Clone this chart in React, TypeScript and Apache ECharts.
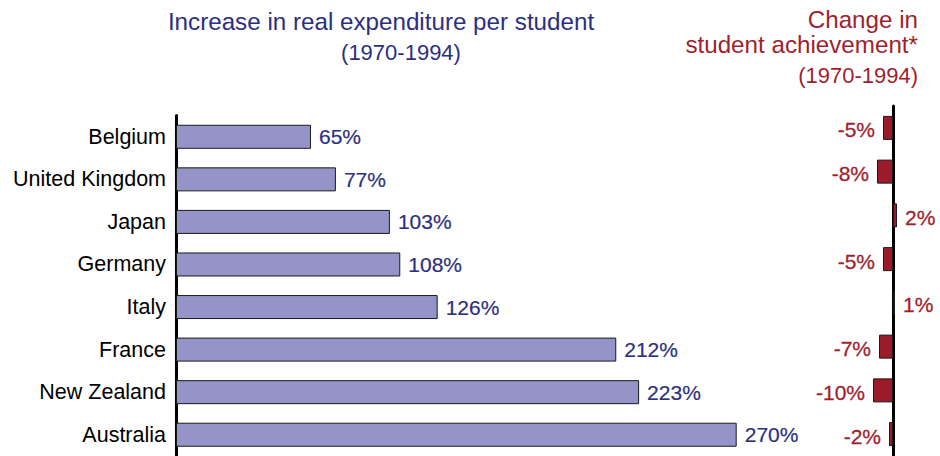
import React, { useEffect, useRef } from 'react';
import * as echarts from 'echarts';

const countries = ['Belgium', 'United Kingdom', 'Japan', 'Germany', 'Italy', 'France', 'New Zealand', 'Australia'];
const expenditureIncrease = [65, 77, 103, 108, 126, 212, 223, 270];
const achievementChange = [-5, -8, 2, -5, 1, -7, -10, -2];

const FONT = '"Liberation Sans", Arial, Helvetica, sans-serif';
const NAVY = '#2b2f80';
const RED = '#a01f2e';

export default function App() {
  const ref = useRef<HTMLDivElement>(null);
  useEffect(() => {
    if (!ref.current) return;
    const chart = echarts.init(ref.current, null, { renderer: 'svg' });
    chart.setOption({
      animation: false,
      backgroundColor: '#ffffff',
      textStyle: { fontFamily: FONT },
      grid: [
        { left: 176, top: 115.5, width: 623, height: 344 },
        { left: 863, top: 106, width: 60, height: 352 },
      ],
      xAxis: [
        { gridIndex: 0, type: 'value', min: 0, max: 300, show: false },
        { gridIndex: 1, type: 'value', min: -15, max: 15, show: false },
      ],
      yAxis: [
        {
          gridIndex: 0,
          type: 'category',
          data: countries,
          inverse: true,
          axisLine: { show: true, onZero: true, lineStyle: { color: '#000', width: 3 } },
          axisTick: { show: false },
          axisLabel: { fontSize: 21.5, color: '#000', margin: 10, fontFamily: FONT },
        },
        {
          gridIndex: 1,
          type: 'category',
          data: countries,
          inverse: true,
          axisLine: { show: true, onZero: true, lineStyle: { color: '#000', width: 3 } },
          axisTick: { show: false },
          axisLabel: { show: false },
        },
      ],
      series: [
        {
          type: 'bar',
          xAxisIndex: 0,
          yAxisIndex: 0,
          data: expenditureIncrease,
          barWidth: 24,
          itemStyle: { color: '#9494c8', borderColor: '#1a1a1a', borderWidth: 1 },
          label: {
            show: true,
            position: 'right',
            distance: 8,
            formatter: '{c}%',
            color: NAVY,
            fontSize: 21,
            fontFamily: FONT,
            textBorderColor: NAVY,
            textBorderWidth: 0.2,
          },
        },
        {
          type: 'bar',
          xAxisIndex: 1,
          yAxisIndex: 1,
          data: achievementChange.map((v) => ({
            value: v,
            label: { position: v < 0 ? 'left' : 'right' },
          })),
          barWidth: 24,
          itemStyle: { color: '#9c1b2b', borderColor: '#1a1a1a', borderWidth: 1 },
          label: {
            show: true,
            distance: 8,
            offset: [0, 2],
            formatter: '{c}%',
            color: RED,
            fontSize: 21,
            fontFamily: FONT,
            textBorderColor: RED,
            textBorderWidth: 0.3,
          },
        },
      ],
      graphic: [
        {
          type: 'text',
          x: 381,
          y: 21,
          style: {
            text: 'Increase in real expenditure per student',
            fill: NAVY,
            font: `24.2px ${FONT}`,
            textAlign: 'center',
            textVerticalAlign: 'middle',
          },
        },
        {
          type: 'text',
          x: 401,
          y: 52,
          style: {
            text: '(1970-1994)',
            fill: NAVY,
            font: `22px ${FONT}`,
            textAlign: 'center',
            textVerticalAlign: 'middle',
          },
        },
        {
          type: 'text',
          x: 918,
          y: 19,
          style: {
            text: 'Change in',
            fill: RED,
            font: `24.2px ${FONT}`,
            textAlign: 'right',
            textVerticalAlign: 'middle',
          },
        },
        {
          type: 'text',
          x: 918,
          y: 44,
          style: {
            text: 'student achievement*',
            fill: RED,
            font: `24.2px ${FONT}`,
            textAlign: 'right',
            textVerticalAlign: 'middle',
          },
        },
        {
          type: 'text',
          x: 918,
          y: 75,
          style: {
            text: '(1970-1994)',
            fill: RED,
            font: `22px ${FONT}`,
            textAlign: 'right',
            textVerticalAlign: 'middle',
          },
        },
      ],
    });
    return () => chart.dispose();
  }, []);
  return (
    <div
      ref={ref}
      style={{ position: 'fixed', left: 0, top: 0, width: 940, height: 456, background: '#fff' }}
    />
  );
}
